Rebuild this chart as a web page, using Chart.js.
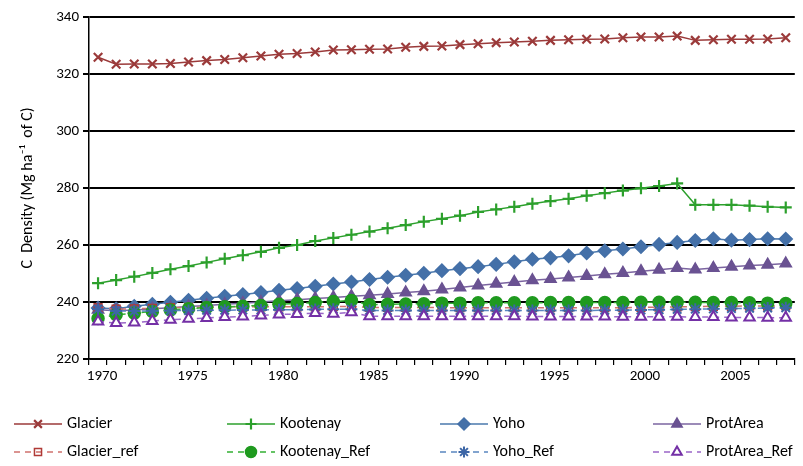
<!DOCTYPE html>
<html>
<head>
<meta charset="utf-8">
<script src="https://cdn.jsdelivr.net/npm/chart.js@4/dist/chart.umd.min.js"></script>
<style>
  html, body { margin: 0; padding: 0; background: #fff; }
  #chart { display: block; }
</style>
</head>
<body>
<canvas id="chart" width="803" height="466"></canvas>
<script>
const years = [1970, 1971, 1972, 1973, 1974, 1975, 1976, 1977, 1978, 1979,
  1980, 1981, 1982, 1983, 1984, 1985, 1986, 1987, 1988, 1989,
  1990, 1991, 1992, 1993, 1994, 1995, 1996, 1997, 1998, 1999,
  2000, 2001, 2002, 2003, 2004, 2005, 2006, 2007, 2008];

const glacier = [325.9, 323.4, 323.5, 323.5, 323.7, 324.2, 324.7, 325.1, 325.7, 326.3,
  326.9, 327.2, 327.7, 328.4, 328.5, 328.7, 328.8, 329.4, 329.7, 329.8,
  330.3, 330.6, 331.0, 331.2, 331.5, 331.8, 332.0, 332.2, 332.3, 332.7,
  333.0, 333.0, 333.3, 331.8, 332.0, 332.2, 332.2, 332.3, 332.7];
const kootenay = [246.6, 247.7, 248.9, 250.2, 251.5, 252.6, 253.9, 255.2, 256.4, 257.6,
  259.0, 260.0, 261.4, 262.5, 263.6, 264.7, 265.9, 267.0, 268.2, 269.2,
  270.3, 271.6, 272.5, 273.4, 274.5, 275.4, 276.2, 277.3, 278.2, 279.1,
  279.9, 280.7, 281.6, 274.1, 274.1, 274.1, 273.8, 273.4, 273.2];
const yoho = [237.9, 237.6, 238.5, 239.2, 239.9, 240.6, 241.3, 242.0, 242.6, 243.3,
  244.1, 244.7, 245.5, 246.3, 247.0, 247.9, 248.7, 249.4, 250.1, 251.0,
  251.7, 252.4, 253.2, 254.1, 255.0, 255.5, 256.2, 257.2, 258.0, 258.6,
  259.4, 260.2, 260.9, 261.6, 262.2, 261.7, 261.9, 262.2, 262.1];
const protArea = [237.3, 236.9, 237.2, 237.6, 238.0, 238.4, 238.8, 239.2, 239.6, 240.0,
  240.4, 240.8, 241.2, 241.6, 242.0, 242.4, 242.8, 243.3, 243.8, 244.4,
  245.1, 245.8, 246.4, 247.0, 247.6, 248.1, 248.6, 249.1, 249.7, 250.2,
  250.8, 251.3, 251.9, 251.4, 251.9, 252.4, 252.8, 253.1, 253.5];
const glacierRef = [238.0, 237.5, 237.6, 237.8, 238.0, 238.1, 238.2, 238.3, 238.3, 238.3,
  238.3, 238.3, 238.3, 238.4, 238.4, 238.1, 238.1, 238.1, 238.1, 238.0,
  238.0, 238.0, 238.0, 238.0, 238.0, 238.0, 238.0, 238.0, 238.0, 238.0,
  238.1, 238.2, 238.3, 238.4, 238.5, 238.5, 238.6, 238.6, 238.7];
const kootenayRef = [234.2, 235.5, 236.1, 236.7, 237.2, 237.6, 238.1, 238.3, 238.5, 238.8,
  239.2, 239.5, 239.8, 240.2, 240.5, 239.0, 239.2, 239.3, 239.4, 239.6,
  239.6, 239.7, 239.7, 239.7, 239.7, 239.8, 239.8, 239.8, 239.8, 239.8,
  239.9, 239.9, 239.9, 239.9, 239.8, 239.8, 239.7, 239.6, 239.5];
const yohoRef = [237.5, 236.8, 236.8, 236.9, 237.0, 237.0, 237.1, 237.1, 237.2, 237.2,
  237.3, 237.3, 237.4, 237.5, 237.5, 237.0, 237.0, 237.0, 237.0, 237.0,
  237.0, 237.0, 237.0, 237.0, 237.0, 237.0, 237.0, 237.0, 237.1, 237.1,
  237.2, 237.3, 237.4, 237.5, 237.6, 237.7, 237.8, 237.9, 238.0];
const protAreaRef = [233.2, 232.6, 232.8, 233.3, 233.8, 234.1, 234.4, 234.7, 234.9, 235.3,
  235.6, 235.8, 236.1, 235.9, 236.4, 235.0, 235.0, 235.0, 235.0, 235.0,
  235.0, 235.0, 235.0, 235.0, 234.9, 234.9, 234.9, 234.9, 234.9, 234.8,
  234.8, 234.8, 234.8, 234.7, 234.7, 234.6, 234.6, 234.5, 234.5];

const yTicks = [220, 240, 260, 280, 300, 320, 340];
const yTitle = "C  Density (Mg ha\u207B\u00B9  of C)";

const FONT = "Carlito, Lato, 'Liberation Sans', sans-serif";
const LEGEND_X = [14, 227, 440, 653];
const LEGEND_Y = [424, 452];

function series(label, data, o) {
  return {
    label,
    data,
    borderColor: o.line,
    borderWidth: o.width || 1.5,
    borderDash: o.dash || [],
    pointStyle: o.style,
    pointRadius: o.radius,
    pointHoverRadius: o.radius,
    pointBackgroundColor: o.fill,
    pointBorderColor: o.mark,
    pointBorderWidth: o.markWidth || 1.5,
    fill: false,
    tension: 0,
    order: o.order,
  };
}

const datasets = [
  series("Glacier", glacier, { line: "#9b3a3a", mark: "#9b3a3a", fill: "#9b3a3a", style: "crossRot", radius: 6, markWidth: 2.2, order: 8 }),
  series("Kootenay", kootenay, { line: "#2ca02c", mark: "#2ca02c", fill: "#2ca02c", style: "cross", radius: 6, markWidth: 2.2, order: 7 }),
  series("Yoho", yoho, { line: "#4a78ad", mark: "#4470a8", fill: "#4470a8", style: "rectRot", radius: 6.5, order: 6 }),
  series("ProtArea", protArea, { line: "#7b64a0", mark: "#6a5292", fill: "#6a5292", style: "triangle", radius: 6.5, order: 5 }),
  series("Glacier_ref", glacierRef, { line: "#d0716d", dash: [6, 5], mark: "#b03a36", fill: "rgba(0,0,0,0)", style: "rect", radius: 5.5, order: 4 }),
  series("Kootenay_Ref", kootenayRef, { line: "#33b033", dash: [6, 5], mark: "#1f9a1f", fill: "#1f9a1f", style: "circle", radius: 6, order: 3 }),
  series("Yoho_Ref", yohoRef, { line: "#5a86c0", dash: [6, 5], mark: "#3d66a6", fill: "#3d66a6", style: "star", radius: 6, markWidth: 2, order: 2 }),
  series("ProtArea_Ref", protAreaRef, { line: "#9a66c8", dash: [6, 5], mark: "#7430a6", fill: "#ffffff", style: "triangle", radius: 6, markWidth: 2, order: 1 }),
];

// legend in a fixed 4 x 2 grid, like the original
const gridLegend = {
  id: "gridLegend",
  afterDraw(chart) {
    const ctx = chart.ctx;
    chart.data.datasets.forEach((ds, i) => {
      const x = LEGEND_X[i % 4];
      const y = LEGEND_Y[Math.floor(i / 4)];
      ctx.save();
      ctx.strokeStyle = ds.borderColor;
      ctx.lineWidth = ds.borderWidth;
      ctx.setLineDash(ds.borderDash);
      ctx.beginPath();
      ctx.moveTo(x, y);
      ctx.lineTo(x + 48, y);
      ctx.stroke();
      ctx.setLineDash([]);
      ctx.fillStyle = ds.pointBackgroundColor;
      ctx.strokeStyle = ds.pointBorderColor;
      ctx.lineWidth = ds.pointBorderWidth;
      if (Chart.helpers && Chart.helpers.drawPoint) {
        Chart.helpers.drawPoint(ctx, {
          pointStyle: ds.pointStyle,
          radius: ds.pointRadius - 0.5,
          borderWidth: ds.pointBorderWidth,
          rotation: 0,
        }, x + 24, y);
      }
      ctx.fillStyle = "#000";
      ctx.font = "16px " + FONT;
      ctx.textBaseline = "middle";
      ctx.fillText(ds.label, x + 53, y);
      ctx.restore();
    });
  },
};

new Chart(document.getElementById("chart"), {
  type: "line",
  data: { labels: years, datasets },
  plugins: [gridLegend],
  options: {
    responsive: false,
    animation: false,
    devicePixelRatio: 1,
    layout: { padding: { top: 17, right: 0, bottom: 0, left: 0 } },
    plugins: {
      legend: { display: false },
      tooltip: { enabled: false },
    },
    scales: {
      x: {
        type: "category",
        offset: true,
        afterFit(scale) { scale.height = 107; },
        border: { color: "#000", width: 1.5 },
        grid: {
          offset: true,
          drawOnChartArea: false,
          drawTicks: true,
          tickLength: 6,
          color: "#000",
          lineWidth: 1.2,
        },
        ticks: {
          autoSkip: false,
          maxRotation: 0,
          padding: 2,
          labelOffset: 4,
          color: "#000",
          font: { family: FONT, size: 15 },
          callback(value) {
            const yr = years[value];
            return yr % 5 === 0 ? String(yr) : "";
          },
        },
      },
      y: {
        min: yTicks[0],
        max: yTicks[yTicks.length - 1],
        afterFit(scale) { scale.width = 89; },
        afterBuildTicks(scale) { scale.ticks = yTicks.map((v) => ({ value: v })); },
        border: { color: "#000", width: 1.5 },
        grid: {
          color: "#000",
          lineWidth: 2,
          drawTicks: true,
          tickLength: 6,
        },
        ticks: {
          padding: 4,
          color: "#000",
          font: { family: FONT, size: 15 },
        },
        title: {
          display: true,
          text: yTitle,
          color: "#000",
          font: { family: FONT, size: 16 },
          padding: { top: 18, bottom: 0 },
        },
      },
    },
  },
});
</script>
</body>
</html>
